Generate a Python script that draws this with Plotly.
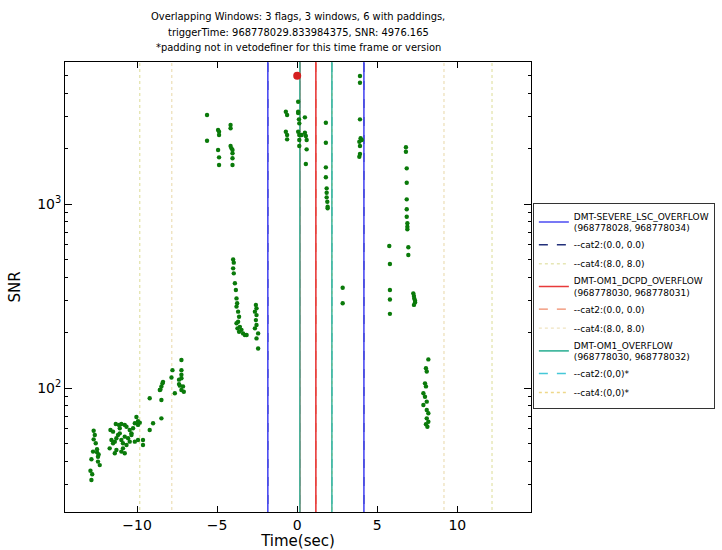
import plotly.graph_objects as go

# ---------------- data ----------------
trigger_time = 968778029.833984375
trigger_snr = 4976.165

flag_names = ["DMT-SEVERE_LSC_OVERFLOW", "DMT-OM1_DCPD_OVERFLOW", "DMT-OM1_OVERFLOW"]
win_start = [968778028, 968778030, 968778030]
win_end = [968778034, 968778031, 968778032]
cat2_pad = [(0.0, 0.0), (0.0, 0.0), (0.0, 0.0)]
cat4_pad = [(8.0, 8.0), (8.0, 8.0), (0.0, 0.0)]
cat2_labels = ["--cat2:(0.0, 0.0)", "--cat2:(0.0, 0.0)", "--cat2:(0,0)*"]
cat4_labels = ["--cat4:(8.0, 8.0)", "--cat4:(8.0, 8.0)", "--cat4:(0,0)*"]

win_colors = ["#4b4bf2", "#e83a3a", "#45b8a0"]
cat2_colors = ["#22307a", "#f08a6a", "#45c8d8"]
cat4_colors = ["#e6e6b4", "#efe3c0", "#eed88a"]

# trigger times relative to trigger (s) and SNR
trig_t = [
    # cluster near -12.6
    -12.71, -12.64, -12.71, -12.58, -12.75, -12.50, -12.44, -12.44, -12.33, -12.85, -12.91, -12.85,
    -12.50, -12.40, -12.80,
    # cluster -11.7 .. -9.6
    -11.66, -11.50, -11.33, -11.13, -10.98, -10.77, -10.66, -10.46, -10.35, -10.25, -10.14, -9.94,
    -9.83, -10.04, -9.94, -11.60, -11.50, -11.39, -11.29, -11.19, -11.08, -10.98, -10.88, -10.77,
    -10.56, -10.46, -10.66, -10.88, -11.29, -11.71, -11.39, -10.98, -10.77, -10.14, -9.94, -9.63,
    -9.63, -10.35, -11.08,
    # cluster -9.2 .. -7
    -9.21, -9.21, -9.00, -8.48, -8.48, -8.58, -8.48, -8.38, -8.41, -8.54, -7.23, -7.79, -7.23,
    -7.23, -7.85, -7.23, -7.38, -7.38, -7.33, -7.13, -7.23, -7.08, -7.64,
    # cluster -5.6 .. -4.0 (high)
    -5.63, -5.63, -4.94, -4.88, -4.88, -4.94, -4.88, -4.88, -4.16, -4.16, -4.16, -4.10, -4.04,
    -4.04, -4.04, -4.04,
    # cluster -4 .. -3.1
    -4.00, -3.96, -4.00, -3.96, -3.89, -3.83, -3.79, -3.75, -3.79, -3.69, -3.63, -3.69, -3.58,
    -3.48, -3.38, -3.27, -3.16, -3.79, -3.73, -3.63,
    # cluster -2.6
    -2.58, -2.54, -2.64, -2.54, -2.58, -2.54, -2.64, -2.44, -2.54, -2.44,
    # cluster around 0
    -0.71, -0.63, -0.71, -0.63, -0.63, 0.06, 0.06, 0.06, 0.11, 0.13, 0.06, 0.13, 0.13, 0.13,
    0.48, 0.48, 0.54, 0.59, 0.59, 0.54, 0.28,
    # cluster 1.8
    1.79, 1.79, 1.79, 1.79, 1.84, 1.84, 1.84, 1.88, 1.90, 1.90,
    # cluster 2.84
    2.84, 2.84,
    # cluster 3.9
    3.92, 3.92, 3.92, 3.96, 4.03, 3.88, 3.92, 3.92, 3.88,
    # cluster 5.8
    5.75, 5.79, 5.79, 5.79, 5.79,
    # cluster 6.8
    6.79, 6.79, 6.84, 6.84, 6.84, 6.84, 6.84, 6.88, 6.88, 6.88, 6.94, 6.94,
    # cluster 7.3
    7.25, 7.29, 7.31, 7.36, 7.36, 7.29,
    # cluster 8.1
    8.19, 8.04, 8.09, 7.98, 8.04, 7.88, 7.98, 8.09, 7.88, 8.09, 8.19, 8.09, 8.19, 8.04, 8.13,
]
trig_snr = [
    58.6, 55.5, 52.6, 50.1, 45.1, 44.7, 42.3, 39.8, 38.1, 41.0, 35.5, 31.6,
    46.5, 43.5, 34.0,
    59.1, 57.9, 63.7, 63.0, 63.7, 63.0, 61.6, 59.1, 56.7, 60.4, 64.3, 63.0,
    64.8, 69.5, 66.0, 52.2, 50.1, 51.1, 53.3, 55.5, 56.7, 52.2, 50.1, 54.4,
    53.3, 51.1, 49.0, 47.0, 46.0, 47.0, 44.2, 45.1, 44.2, 51.1, 52.2, 52.2,
    49.0, 55.5, 60.4,
    87.9, 59.1, 64.3, 86.1, 68.4, 97.5, 102, 108, 106, 98, 142, 125, 125,
    118, 114, 113, 111, 105, 103, 102, 97.5, 95.5, 93.6,
    3046, 2208, 2525, 2472, 2371, 1966, 1794, 1629, 2688, 2579, 2067, 2008, 1966,
    1886, 1772, 1629,
    500, 480, 447, 420, 371, 341, 307, 289, 277, 260, 244, 229, 215,
    207, 198, 194, 194, 225, 211, 202,
    283, 271, 260, 249, 234, 220, 211, 198, 186, 164,
    3174, 3046, 2472, 2371, 2247, 3597, 3174, 3120, 2886, 2745, 2472, 2371, 2228, 2067,
    2959, 2440, 2342, 2228, 1983, 1650, 2371,
    2766, 2154, 1583, 1397, 1217, 1152, 1087, 1029, 967, 948,
    351, 289,
    4963, 4562, 2886, 2276, 2228, 2181, 2067, 1869, 1807,
    591, 472, 341, 303, 253,
    2034, 1924, 1563, 1306, 1060, 936, 853, 786, 753, 729, 582, 528,
    327, 316, 307, 298, 292, 283,
    143, 128, 123, 106, 102, 93.6, 89.7, 84.3, 80.8, 75.9, 72.9, 68.4, 65.6, 63.5, 61.6,
]

x_range = [-14.5, 14.6]
y_range_log = [1.326, 3.772]
x_ticks = [-10, -5, 0, 5, 10]
y_ticks = [100, 1000]
y_ticktext = ["10<sup>2</sup>", "10<sup>3</sup>"]
y_minor = [20, 30, 40, 50, 60, 70, 80, 90, 200, 300, 400, 500, 600, 700, 800, 900,
           2000, 3000, 4000, 5000]

title_lines = [
    "Overlapping Windows: 3 flags, 3 windows, 6 with paddings,",
    "triggerTime: 968778029.833984375, SNR: 4976.165",
    "*padding not in vetodefiner for this time frame or version",
]

# ---------------- figure ----------------
fig = go.Figure()

Y_LO, Y_HI = 1, 100000


def vlines(xs):
    xx, yy = [], []
    for x in xs:
        xx += [x, x, None]
        yy += [Y_LO, Y_HI, None]
    return xx, yy


# padding lines first (drawn underneath), then window lines on top
for i, name in enumerate(flag_names):
    s = win_start[i] - trigger_time
    e = win_end[i] - trigger_time
    xx, yy = vlines([s - cat4_pad[i][0], e + cat4_pad[i][1]])
    fig.add_trace(go.Scatter(
        x=xx, y=yy, mode="lines", line=dict(color=cat4_colors[i], width=1.4, dash="dot"),
        name=cat4_labels[i], hoverinfo="skip", legendrank=10 * i + 3))
    xx, yy = vlines([s - cat2_pad[i][0], e + cat2_pad[i][1]])
    fig.add_trace(go.Scatter(
        x=xx, y=yy, mode="lines", line=dict(color=cat2_colors[i], width=1.4, dash="dash"),
        name=cat2_labels[i], hoverinfo="skip", legendrank=10 * i + 2))

for i, name in enumerate(flag_names):
    s = win_start[i] - trigger_time
    e = win_end[i] - trigger_time
    xx, yy = vlines([s, e])
    fig.add_trace(go.Scatter(
        x=xx, y=yy, mode="lines", line=dict(color=win_colors[i], width=1.6),
        name=f"{name}<br>({win_start[i]}, {win_end[i]})", hoverinfo="skip",
        legendrank=10 * i + 1))

fig.add_trace(go.Scatter(
    x=trig_t, y=trig_snr, mode="markers",
    marker=dict(color="#0a7a0a", size=4.4, line=dict(width=0)),
    showlegend=False))

fig.add_trace(go.Scatter(
    x=[0.0], y=[trigger_snr], mode="markers",
    marker=dict(color="#d42020", size=8, line=dict(width=0)),
    showlegend=False))

axis_common = dict(
    showline=True, linecolor="black", linewidth=1, mirror="ticks",
    ticks="inside", tickcolor="black", showgrid=False, zeroline=False,
    tickfont=dict(family="DejaVu Sans", size=14, color="black"),
)

fig.update_xaxes(range=x_range, tickvals=x_ticks, ticklen=6,
                 title=dict(text="Time(sec)", font=dict(family="DejaVu Sans", size=15, color="black"),
                            standoff=2),
                 **axis_common)
fig.update_yaxes(type="log", range=y_range_log, tickvals=y_ticks, ticktext=y_ticktext, ticklen=7,
                 minor=dict(ticks="inside", ticklen=3, tickcolor="black", tickvals=y_minor,
                            showgrid=False),
                 title=dict(text="SNR", font=dict(family="DejaVu Sans", size=15, color="black"),
                            standoff=12),
                 **axis_common)

for line, shift in zip(title_lines, [46, 30, 15]):
    fig.add_annotation(
        text=line, x=0.5, xref="paper", xanchor="center",
        y=1, yref="paper", yanchor="middle", yshift=shift, showarrow=False,
        font=dict(family="DejaVu Sans Condensed, DejaVu Sans", size=11, color="black"),
    )

fig.update_layout(
    width=722, height=550,
    paper_bgcolor="white", plot_bgcolor="white",
    margin=dict(l=65, r=191, t=62, b=38, autoexpand=False),
    legend=dict(x=1.004, xanchor="left", y=0.687, yanchor="top",
                bgcolor="white", bordercolor="#333333", borderwidth=1,
                font=dict(family="DejaVu Sans", size=9, color="black"),
                tracegroupgap=0, itemwidth=30),
    showlegend=True,
)

fig.write_html("out.html")
